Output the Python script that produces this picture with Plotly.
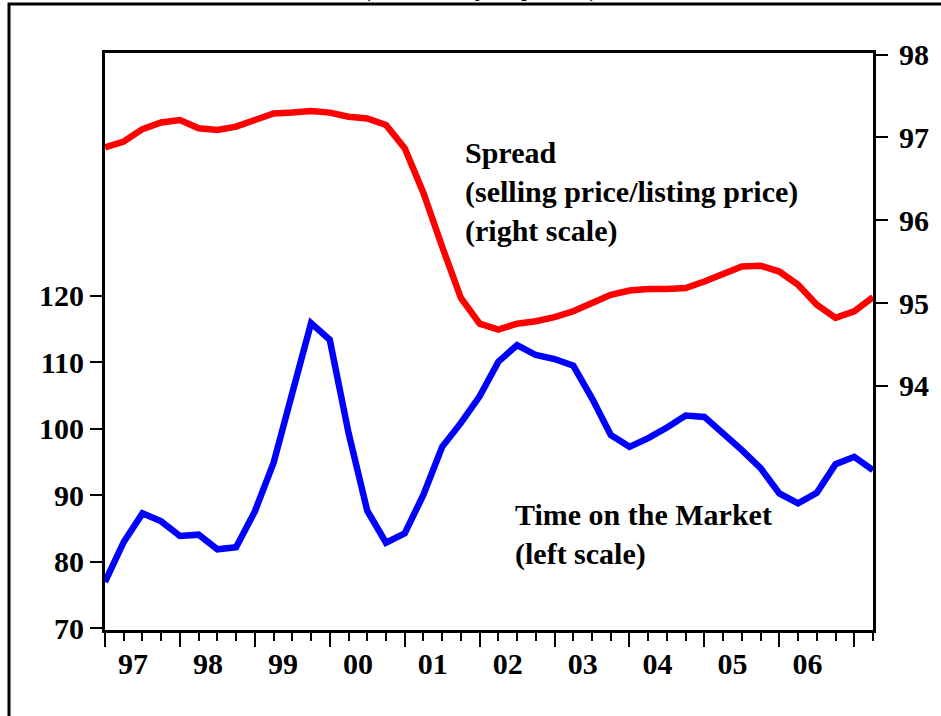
import plotly.graph_objects as go

# ---- data (quarterly, 1997Q1 .. 2007Q2) ----
quarters = [f"{y}Q{q}" for y in range(1997, 2008) for q in range(1, 5)][:42]

time_on_market = [77.0, 83.0, 87.3, 86.1, 83.9, 84.1, 81.9, 82.2, 87.6, 94.9,
                  105.4, 115.9, 113.4, 99.4, 87.7, 82.9, 84.3, 90.1, 97.3, 100.9,
                  104.9, 110.1, 112.6, 111.1, 110.5, 109.5, 104.6, 99.1, 97.3, 98.6,
                  100.2, 102.0, 101.8, 99.4, 96.8, 94.1, 90.3, 88.8, 90.4, 94.7,
                  95.8, 93.8]

spread = [96.88, 96.95, 97.10, 97.18, 97.21, 97.11, 97.09, 97.13, 97.21, 97.29,
          97.30, 97.32, 97.30, 97.25, 97.23, 97.15, 96.87, 96.33, 95.68, 95.06,
          94.75, 94.68, 94.75, 94.78, 94.83, 94.90, 95.00, 95.10, 95.15, 95.17,
          95.17, 95.18, 95.26, 95.36, 95.44, 95.45, 95.38, 95.22, 94.98, 94.82,
          94.90, 95.07]

year_labels = ["97", "98", "99", "00", "01", "02", "03", "04", "05", "06"]
left_ticks = [70, 80, 90, 100, 110, 120]
right_ticks = [94, 95, 96, 97, 98]

x = list(range(len(quarters)))
year_starts = [4 * k for k in range(len(year_labels) + 1)]
year_mids = [4 * k + 1.5 for k in range(len(year_labels))]

FONT = "Liberation Serif"
W, H = 941, 716
ML, MR, MT, MB = 105, 68, 53, 86
PW, PH = W - ML - MR, H - MT - MB


def px(xp):
    return (xp - ML) / PW


def py(yp):
    return (H - MB - yp) / PH


fig = go.Figure()
fig.add_trace(go.Scatter(x=x, y=time_on_market, mode="lines",
                         line=dict(color="#0000FF", width=6.5), yaxis="y",
                         showlegend=False))
fig.add_trace(go.Scatter(x=x, y=spread, mode="lines",
                         line=dict(color="#FF0000", width=6.5), yaxis="y2",
                         showlegend=False))
# invisible helper trace so that the label axis is drawn
fig.add_trace(go.Scatter(x=[x[0]], y=[time_on_market[0]], xaxis="x2",
                         mode="markers", marker=dict(opacity=0),
                         showlegend=False, hoverinfo="skip"))

tickfont = dict(family=FONT, size=30, color="black", weight="bold")
xr = [x[0], x[-1]]
annfont = dict(family=FONT, size=30, color="black", weight="bold")

fig.update_layout(
    width=W, height=H,
    margin=dict(l=ML, r=MR, t=MT, b=MB),
    paper_bgcolor="white", plot_bgcolor="white",
    xaxis=dict(range=xr, showgrid=False, zeroline=False,
               showline=True, linewidth=3, linecolor="black", mirror=True,
               tickvals=year_starts, ticks="outside", ticklen=14, tickwidth=2,
               tickcolor="black", showticklabels=False,
               minor=dict(dtick=1, tick0=0, ticks="outside", ticklen=8,
                          tickwidth=2, tickcolor="black")),
    xaxis2=dict(range=xr, overlaying="x", anchor="y", side="bottom",
                showgrid=False, zeroline=False, showline=False,
                tickvals=year_mids, ticktext=year_labels,
                ticks="outside", ticklen=7, tickcolor="rgba(0,0,0,0)",
                tickfont=tickfont),
    yaxis=dict(range=[69.77, 156.5], showgrid=False, zeroline=False,
               showline=True, linewidth=3, linecolor="black",
               tickvals=left_ticks, ticks="outside", ticklen=12, tickwidth=2,
               tickcolor="black", tickfont=tickfont),
    yaxis2=dict(range=[91.05, 98.02], overlaying="y", side="right",
                showgrid=False, zeroline=False, showline=True, linewidth=3,
                linecolor="black", tickvals=right_ticks, ticks="outside",
                ticklen=12, tickwidth=2, tickcolor="black", tickfont=tickfont,
                ticklabelstandoff=5),
    shapes=[dict(type="rect", xref="paper", yref="paper",
                 x0=px(9), x1=px(980), y0=py(760), y1=py(4),
                 line=dict(color="black", width=3),
                 fillcolor="rgba(0,0,0,0)", layer="above")],
    annotations=[
        dict(text="Spread<br>(selling price/listing price)<br>(right scale)",
             xref="paper", yref="paper", x=px(463), y=py(134),
             xanchor="left", yanchor="top", align="left", showarrow=False,
             font=annfont),
        dict(text="Time on the Market<br>(left scale)",
             xref="paper", yref="paper", x=px(513), y=py(496),
             xanchor="left", yanchor="top", align="left", showarrow=False,
             font=annfont),
        dict(text="(Seasonally adjusted)",
             xref="paper", yref="paper", x=px(480), y=py(4),
             xanchor="center", yanchor="bottom", showarrow=False,
             font=dict(family=FONT, size=26, color="black", weight="bold")),
    ],
)

fig.write_html("out.html", config={"displayModeBar": False},
               post_script="document.body.style.margin='0px';")
